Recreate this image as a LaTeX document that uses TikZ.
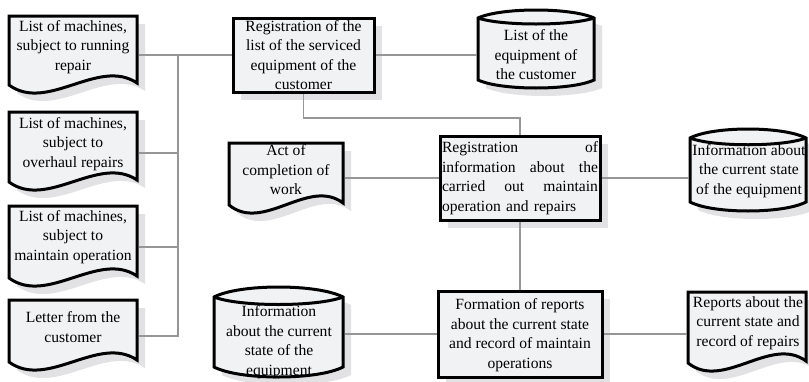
\documentclass[tikz,border=0pt]{standalone}
\usepackage{fontspec}
\setmainfont{Liberation Serif}
\usetikzlibrary{calc,shadows}
\definecolor{fillc}{RGB}{241,242,244}
\definecolor{shadc}{RGB}{226,226,228}
\definecolor{linec}{RGB}{150,150,150}
\tikzset{
  outl/.style={draw=black, line width=3pt, fill=fillc, line join=miter},
  shad/.style={fill=shadc},
  conn/.style={draw=linec, line width=1.1pt},
  anchorbox/.style={draw=none, rectangle, inner sep=0pt, outer sep=1.5pt},
  procbox/.style={rectangle, draw=black, line width=3pt, fill=fillc, inner sep=0pt,
    drop shadow={shadow xshift=8pt, shadow yshift=-8pt, fill=shadc, opacity=1}},
  txt/.style={inner sep=0pt, align=center, font=\fontsize{15.6}{19.5}\selectfont},
}
% document shape: x1, top, x2, bottom-left end of wave
\newcommand\docshape[4]{%
  \fill[shad, shift={(8,8)}] (#1,#2) -- (#3,#2) -- ({#3},{#4-2})
    .. controls ({#3-0.3*(#3-#1)},{#4-28}) and ({#1+0.3*(#3-#1)},{#4+28}) .. (#1,#4) -- cycle;
  \path[outl] (#1,#2) -- (#3,#2) -- ({#3},{#4-2})
    .. controls ({#3-0.3*(#3-#1)},{#4-28}) and ({#1+0.3*(#3-#1)},{#4+28}) .. (#1,#4) -- cycle;
}
% stored data (disk) shape: x1, side top, x2, side bottom, arc height
\newcommand\cylshape[5]{%
  \fill[shad, shift={(8,8)}] (#1,#2)
    .. controls ({#1+0.2*(#3-#1)},{#2-1.333*#5}) and ({#3-0.2*(#3-#1)},{#2-1.333*#5}) .. (#3,#2)
    -- (#3,#4)
    .. controls ({#3-0.2*(#3-#1)},{#4+1.333*#5}) and ({#1+0.2*(#3-#1)},{#4+1.333*#5}) .. (#1,#4) -- cycle;
  \path[outl] (#1,#2)
    .. controls ({#1+0.2*(#3-#1)},{#2-1.333*#5}) and ({#3-0.2*(#3-#1)},{#2-1.333*#5}) .. (#3,#2)
    -- (#3,#4)
    .. controls ({#3-0.2*(#3-#1)},{#4+1.333*#5}) and ({#1+0.2*(#3-#1)},{#4+1.333*#5}) .. (#1,#4) -- cycle;
  \draw[black, line width=3pt] (#1,#2)
    .. controls ({#1+0.2*(#3-#1)},{#2+1.0*#5}) and ({#3-0.2*(#3-#1)},{#2+1.0*#5}) .. (#3,#2);
}
\begin{document}
\begin{tikzpicture}[x=1pt,y=-1pt]
\useasboundingbox (0,0) rectangle (809,381);

% ---- outlines of documents and stores
\docshape{9}{16}{137}{85}
\docshape{9}{112}{137}{182}
\docshape{9}{206}{137}{278}
\docshape{9}{300}{137}{362}
\docshape{229}{143}{343}{205}
\docshape{688}{292}{806}{363}
\cylshape{478}{18}{594}{80}{8}
\cylshape{690}{138}{806}{202}{9}
\cylshape{214}{297}{343}{367}{10}

% ---- named anchor boxes for the drawn shapes
\node[anchorbox, minimum width=128pt, minimum height=78pt] (doc1) at (73,55) {};
\node[anchorbox, minimum width=128pt, minimum height=82pt] (doc2) at (73,153) {};
\node[anchorbox, minimum width=128pt, minimum height=82pt] (doc3) at (73,247) {};
\node[anchorbox, minimum width=128pt, minimum height=72pt] (doc4) at (73,336) {};
\node[anchorbox, minimum width=114pt, minimum height=70pt] (act) at (286,178) {};
\node[anchorbox, minimum width=118pt, minimum height=80pt] (rep) at (747,334) {};
\node[anchorbox, minimum width=116pt, minimum height=74pt] (cyl1) at (536,55) {};
\node[anchorbox, minimum width=116pt, minimum height=80pt] (cyl2) at (748,178) {};
\node[anchorbox, minimum width=129pt, minimum height=80pt] (cyl3) at (278.5,334) {};

% ---- process boxes
\node[procbox, minimum width=141pt, minimum height=74pt] (box1) at (303.5,55) {};
\node[procbox, minimum width=160pt, minimum height=84pt] (box2) at (520,178) {};
\node[procbox, minimum width=164pt, minimum height=86pt] (box3) at (520,334) {};

% ---- connectors
\coordinate (bus) at (178,55);
\coordinate (j1) at (303.5,118);
\draw[conn] (doc1.east) -- (box1.west);
\draw[conn] (doc4.east) -| (bus);
\draw[conn] (doc2.east) -- (doc2.east -| bus);
\draw[conn] (doc3.east) -- (doc3.east -| bus);
\draw[conn] (box1.east) -- (cyl1.west);
\draw[conn] (box1.south) -- (j1) -| (box2.north);
\draw[conn] (act.east) -- (box2.west);
\draw[conn] (box2.east) -- (cyl2.west);
\draw[conn] (box2.south) -- (box3.north);
\draw[conn] (cyl3.east) -- (box3.west);
\draw[conn] (box3.east) -- (rep.west);

% ---- texts
\node[txt] (doc1t) at (73,47) {List of machines,\\subject to running\\repair};
\node[txt] (doc2t) at (73,144) {List of machines,\\subject to\\overhaul repairs};
\node[txt] (doc3t) at (73,237) {List of machines,\\subject to\\maintain operation};
\node[txt] (doc4t) at (73,327) {Letter from the\\customer};
\node[txt] (box1t) at (303.5,55) {Registration of the\\list of the serviced\\equipment of the\\customer};
\node[txt] (cyl1t) at (536,55) {List of the\\equipment of\\the customer};
\node[txt] (actt) at (286,170) {Act of\\completion of\\work};
\node[txt, text width=156pt, align=left] (box2t) at (520,178)
  {Registration\hfill of\\information\hfill about\hfill the\\carried\hfill out\hfill maintain\\operation and repairs};
\node[txt] (cyl2t) at (749,171) {Information about\\the current state\\of the equipment};
\node[txt] (cyl3t) at (279,342) {Information\\about the current\\state of the\\equipment};
\node[txt] (box3t) at (520,335) {Formation of reports\\about the current state\\and record of maintain\\operations};
\node[txt] (rept) at (748,323) {Reports about the\\current state and\\record of repairs};
\end{tikzpicture}
\end{document}
